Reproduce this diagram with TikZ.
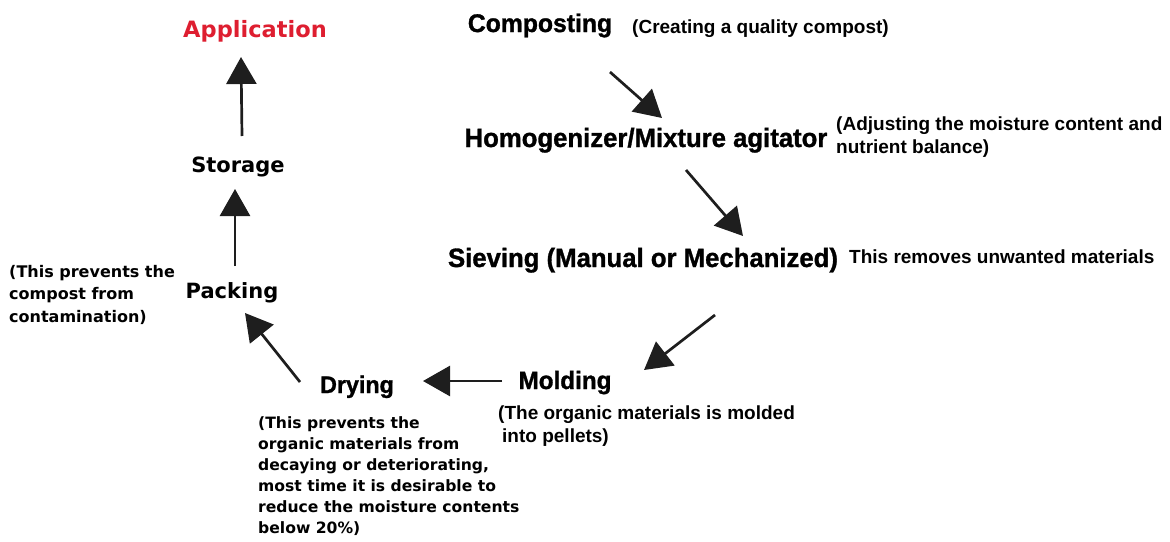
\documentclass[tikz,border=0pt]{standalone}
\usepackage{fontspec}
\setmainfont{Liberation Sans}
\newfontfamily\condf[FakeStretch=0.97,FakeBold=1.2]{Liberation Sans}
\newfontfamily\widef{DejaVu Sans}
\usetikzlibrary{arrows.meta}
\definecolor{appred}{RGB}{222,30,48}
\definecolor{arrgray}{RGB}{30,30,30}
\tikzset{
  arr/.style={line width=2.7pt, draw=arrgray, -{Triangle[length=27pt,width=30pt]}},
  head/.style={inner sep=0pt, anchor=base, font=\condf\bfseries\fontsize{#1}{#1}\selectfont},
  widehead/.style={inner sep=0pt, anchor=base, font=\widef\bfseries\fontsize{#1}{#1}\selectfont},
  note/.style={inner sep=0pt, anchor=base west, align=left, font=\bfseries\fontsize{19}{22.5}\selectfont},
  widenote/.style 2 args={inner sep=0pt, anchor=base west, align=left, font=\widef\bfseries\fontsize{#1}{#2}\selectfont},
}
\begin{document}
\begin{tikzpicture}[x=1pt,y=-1pt]
\useasboundingbox (0,0) rectangle (1170,541);
% headings
\node[widehead=22.5, text=appred] (application) at (255,37) {Application};
\node[widehead=21] (storage) at (238,172) {Storage};
\node[widehead=21] (packing) at (232,298) {Packing};
\node[head=24] (drying) at (357,393) {Drying};
\node[head=25] (molding) at (565,389) {Molding};
\node[head=26.5] (sieving) at (643,267) {Sieving (Manual or Mechanized)};
\node[head=26.5] (homog) at (646,147) {Homogenizer/Mixture agitator};
\node[head=25.5] (composting) at (540,32) {Composting};
% notes (anchor on the baseline of the last line)
\node[note] (compnote) at (632,33) {(Creating a quality compost)};
\node[note] (homognote) at (836,153) {(Adjusting the moisture content and\\nutrient balance)};
\node[note] (sievenote) at (849,263) {This removes unwanted materials};
\node[note] (moldnote) at (498,442) {(The organic materials is molded\\\hspace{4pt}into pellets)};
\node[widenote={16}{22.5}] (packnote) at (9,322) {(This prevents the\\compost from\\contamination)};
\node[widenote={15.6}{21}] (drynote) at (258,533) {(This prevents the\\organic materials from\\decaying or deteriorating,\\most time it is desirable to\\reduce the moisture contents\\below 20\%)};
% arrow end points
\coordinate (c1s) at (610,72);  \coordinate (c1e) at (662,118);
\coordinate (c2s) at (686,170); \coordinate (c2e) at (743,236);
\coordinate (c3s) at (715,315); \coordinate (c3e) at (644,370);
\coordinate (c4s) at (502,381); \coordinate (c4e) at (423,381);
\coordinate (c5s) at (300,382); \coordinate (c5e) at (245,313);
\coordinate (c6s) at (235,266); \coordinate (c6e) at (235,189);
\coordinate (c7s) at (242,136); \coordinate (c7e) at (241,57);
\draw[arr] (c1s) -- (c1e);
\draw[arr] (c2s) -- (c2e);
\draw[arr] (c3s) -- (c3e);
\draw[arr] (c4s) -- (c4e);
\draw[arr] (c5s) -- (c5e);
\draw[arr] (c6s) -- (c6e);
\draw[arr] (c7s) -- (c7e);
\end{tikzpicture}
\end{document}
